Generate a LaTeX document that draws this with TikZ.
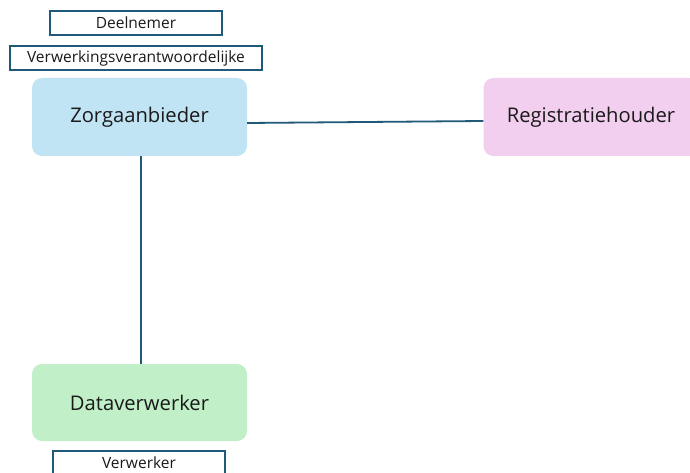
\documentclass[tikz,border=0pt]{standalone}
\usepackage{fontspec}
\setmainfont{Open Sans}
\definecolor{edge}{HTML}{1F5A78}
\definecolor{zorgfill}{HTML}{C1E4F5}
\definecolor{regfill}{HTML}{F2CEEF}
\definecolor{datafill}{HTML}{C1F0C8}
\definecolor{txt}{HTML}{1A1A1A}
\tikzset{
  entity/.style={rounded corners=10pt, minimum width=215pt, minimum height=78pt, inner sep=0pt, text=txt, font=\fontsize{20.2}{23}\selectfont},
  rolebox/.style={draw=edge, line width=1.5pt, fill=white, minimum height=24pt, inner sep=0pt, text=txt, font=\fontsize{15.5}{17}\selectfont},
  link/.style={draw=edge, line width=1.8pt}
}
\begin{document}
\begin{tikzpicture}[x=1pt,y=-1pt]
\useasboundingbox (0,0) rectangle (690,473);
\clip (0,0) rectangle (690,473);
\fill[white] (0,0) rectangle (690,473);
\node[entity, fill=zorgfill] (zorg) at (139.5,117) {\raisebox{-2pt}{Zorgaanbieder}};
\node[entity, fill=regfill] (reg) at (591,117) {\raisebox{-2pt}{Registratiehouder}};
\node[entity, fill=datafill, minimum height=77pt] (data) at (139.5,402.5) {\raisebox{-2pt}{Dataverwerker}};
\node[rolebox, minimum width=172pt] (deel) at (136,23) {Deelnemer};
\node[rolebox, minimum width=252pt] (vv) at (136,58) {Verwerkingsverantwoordelijke};
\node[rolebox, minimum width=172pt] (verw) at (139,463) {Verwerker};
\draw[link] ([yshift=-6pt]zorg.east) -- ([yshift=-4pt]reg.west);
\draw[link] ([xshift=1.5pt]zorg.south) -- ([xshift=1.5pt]data.north);
\end{tikzpicture}
\end{document}
